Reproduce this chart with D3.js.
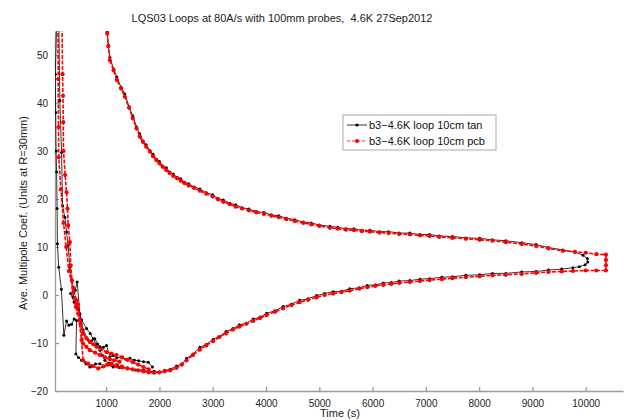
<!DOCTYPE html>
<html>
<head>
<meta charset="utf-8">
<script src="https://cdn.jsdelivr.net/npm/d3@7"></script>
<style>
  body { margin: 0; background: #fff; }
  svg { font-family: "Liberation Sans", Arial, sans-serif; }
  .axis path, .axis line { stroke: #9a9a9a; stroke-width: 1.3; }
  .axis text { fill: #222; font-size: 10px; }
</style>
</head>
<body>
<svg width="626" height="420"></svg>
<script>
// tick values
var xTicks = [1000, 2000, 3000, 4000, 5000, 6000, 7000, 8000, 9000, 10000];
var yTicks = [-20, -10, 0, 10, 20, 30, 40, 50];
var seriesNames = ["b3\u22124.6K loop 10cm tan", "b3\u22124.6K loop 10cm pcb"];

// black series (tan): main loop, lower branch -> turn -> upper branch, [time, value]
var tanLoop = [[1100,-14.6],[1250,-15.1],[1400,-15.2],[1550,-15.6],[1700,-15.6],[1800,-16.0],[1900,-15.9],[2000,-16.1],
  [2100,-15.7],[2200,-15.5],[2320,-14.8],[2420,-14.4],[2510,-13.2],[2630,-12.3],[2760,-10.9],[2880,-10.3],[3010,-9.2],
  [3120,-8.7],[3250,-7.6],[3380,-7.0],[3500,-6.2],[3630,-5.9],[3760,-5.0],[3890,-4.6],[4010,-3.8],[4170,-3.3],[4320,-2.4],
  [4480,-1.9],[4630,-1.1],[4790,-0.8],[4950,-0.1],[5100,0.3],[5260,0.7],[5420,0.8],[5570,1.3],[5750,1.5],[5900,2.0],
  [6050,2.1],[6200,2.5],[6350,2.6],[6500,2.9],[6700,3.0],[6890,3.3],[7070,3.4],[7300,3.7],[7500,3.8],[7750,4.1],[8010,4.2],
  [8250,4.5],[8500,4.5],[8800,4.8],[9070,4.9],[9300,5.2],[9550,5.4],[9760,5.7],[9880,5.9],[9990,6.3],[10040,6.9],
  [10030,7.6],[9950,8.3],[9800,8.9],[9570,9.4],[9300,9.9],[9070,10.5],[8800,10.9],[8500,11.3],[8250,11.5],[8010,11.8],
  [7750,11.9],[7500,12.2],[7250,12.3],[7070,12.6],[6890,12.6],[6700,12.9],[6500,12.9],[6300,13.2],[6130,13.2],[5950,13.5],
  [5800,13.5],[5650,13.8],[5500,13.8],[5350,14.1],[5200,14.3],[5000,14.6],[4850,15.0],[4700,15.2],[4540,15.7],[4380,16.0],
  [4240,16.5],[4100,16.7],[3960,17.2],[3820,17.4],[3680,17.9],[3550,18.2],[3430,18.8],[3320,19.1],[3200,19.8],[3100,20.1],
  [3000,20.9],[2880,21.3],[2760,22.1],[2650,22.5],[2550,23.2],[2470,23.5],[2400,24.2],[2330,24.5],[2260,25.2],[2190,25.6],
  [2130,26.5],[2060,26.9],[2000,27.8],[1940,28.3],[1880,29.3],[1820,30.1],[1750,31.3],[1690,32.1],[1630,33.6],[1570,35.0],
  [1500,37.3],[1430,39.2],[1350,41.9],[1280,43.3],[1200,45.4],[1140,47.1],[1070,49.5],[1040,52.1],[1020,54.9],[1000,57]];

// black series: the early loops near the left axis
var tanLeftA = [[75,58],[45,46],[52,38],[60,30],[70,25.6],[80,18],[85,10.7],[110,5.8],[160,1.2],[206,-8.4],[257,-5.4],
  [300,-6.3],[351,-6.1],[400,-5.0],[445,-5.3],[432,-12.3],[480,-13.0],[538,-13.6],[620,-14.3],[694,-15.0],[726,-14.8],
  [800,-14.4],[882,-14.3],[960,-14.8],[1040,-14.6],[1100,-14.6]];
var tanLeftB = [[110,58],[131,40.5],[163,29.7],[182,18.6],[225,16.2],[257,13.1],[287,10.3],[319,5.8],[351,3.2],[381,-0.4],
  [420,1.0],[456,2.7],[507,-3.9],[568,-7.3],[662,-9.4],[720,-9.6],[788,-9.1],[840,-10.2],[882,-10.8],[950,-10.9],
  [1007,-10.5],[1069,-12.9],[1130,-12.6],[1200,-13.1],[1290,-12.9],[1370,-13.4],[1445,-13.2],[1530,-13.6],[1610,-13.7],
  [1700,-13.9],[1790,-14.0],[1870,-15.0]];
var tanLeftC = [[332,0.3],[400,-1.5],[470,-3.0],[540,-5.2],[632,-7.0],[700,-8.0],[756,-9.1],[820,-10.4],[882,-11.5],
  [930,-12.6],[976,-13.6],[1050,-14.2],[1131,-15.0],[1200,-14.6],[1300,-15.1]];

// red series (pcb): main loop with the square end at ~10380 s
var pcbLoop = [[1100,-14.5],[1200,-14.9],[1300,-15.1],[1400,-15.3],[1500,-15.5],[1600,-15.7],[1700,-15.9],[1800,-16.1],
  [1900,-16.2],[2000,-16.1],[2100,-15.9],[2200,-15.7],[2320,-15.2],[2420,-14.5],[2510,-13.6],[2630,-12.5],[2760,-11.4],
  [2880,-10.5],[3010,-9.6],[3120,-8.8],[3250,-8.0],[3380,-7.2],[3500,-6.6],[3630,-6.0],[3760,-5.4],[3890,-4.8],[4010,-4.2],
  [4170,-3.5],[4320,-2.8],[4480,-2.1],[4630,-1.5],[4790,-1.0],[4950,-0.5],[5100,0.0],[5260,0.3],[5420,0.6],[5570,0.9],
  [5750,1.3],[5900,1.6],[6050,1.9],[6200,2.1],[6350,2.3],[6500,2.5],[6700,2.7],[6890,2.9],[7070,3.1],[7300,3.3],[7500,3.5],
  [7750,3.7],[8010,3.9],[8250,4.1],[8500,4.2],[8800,4.4],[9070,4.6],[9300,4.8],[9550,4.9],[9760,5.0],[10000,5.1],
  [10200,5.1],[10380,5.1],[10380,6.2],[10380,7.3],[10380,8.4],[10200,8.5],[10000,8.8],[9800,9.0],[9570,9.2],[9300,9.7],
  [9070,10.2],[8800,10.6],[8500,11.0],[8250,11.3],[8010,11.5],[7750,11.7],[7500,11.9],[7250,12.1],[7070,12.3],[6890,12.4],
  [6700,12.6],[6500,12.7],[6300,12.9],[6130,13.0],[5950,13.2],[5800,13.3],[5650,13.5],[5500,13.6],[5350,13.8],[5200,14.0],
  [5000,14.4],[4850,14.7],[4700,15.0],[4540,15.4],[4380,15.8],[4240,16.2],[4100,16.5],[3960,16.9],[3820,17.2],[3680,17.6],
  [3550,18.0],[3430,18.4],[3320,18.9],[3200,19.4],[3100,19.9],[3000,20.5],[2880,21.1],[2760,21.7],[2650,22.3],[2550,22.8],
  [2470,23.3],[2400,23.8],[2330,24.3],[2260,24.8],[2190,25.4],[2130,26.0],[2060,26.7],[2000,27.4],[1940,28.1],[1880,28.9],
  [1820,29.9],[1750,30.9],[1690,31.9],[1630,33.0],[1570,34.7],[1500,36.8],[1430,39.0],[1350,41.3],[1280,43.0],[1200,44.8],
  [1140,46.8],[1070,48.9],[1040,51.8],[1020,54.5],[1000,57]];

// red series: the early loops near the left axis
var pcbLeftA = [[170,58],[182,46],[190,41.5],[195,36],[200,30],[230,25],[257,21.4],[275,18],[287,14.5],[319,11.0],
  [335,6.2],[360,3.0],[381,0.5],[430,-2.5],[475,-3.9],[538,-9.4],[568,-13.6],[662,-14.3],[750,-14.8],[850,-15.3],
  [950,-14.9],[1020,-14.5],[1100,-14.3],[1200,-14.6],[1300,-14.9]];
var pcbLeftB = [[95,58],[100,45],[105,35],[110,28.7],[150,22],[200,15],[250,10],[300,5],[380,1.5],[445,-1.1],[507,-5.3],
  [568,-8.0],[630,-9.0],[694,-9.8],[760,-10.3],[820,-10.8],[910,-11.3],[1007,-11.9],[1100,-12.2],[1195,-12.5],[1300,-13.0],
  [1400,-13.5],[1500,-14.0],[1600,-14.5],[1700,-15.0],[1800,-15.5]];
var pcbLeftC = [[470,-2.0],[520,-6.0],[568,-10.1],[630,-10.8],[694,-11.5],[790,-12.0],[882,-12.5],[980,-13.0],
  [1069,-13.4],[1150,-13.6],[1250,-13.9]];

var svg = d3.select("svg");

// plot box (no "top": that name is taken by window)
var plotLeft = 55, plotRight = 623, plotTop = 31, plotBottom = 391;

var x = d3.scaleLinear().domain([40, 10700]).range([plotLeft, plotRight]);
var y = d3.scaleLinear().domain([-20, 55]).range([plotBottom, plotTop]);

svg.append("clipPath").attr("id", "clip")
  .append("rect")
  .attr("x", plotLeft).attr("y", plotTop)
  .attr("width", plotRight - plotLeft).attr("height", plotBottom - plotTop);

// axes with inward ticks, matlab style
svg.append("g")
  .attr("class", "axis")
  .attr("transform", "translate(0," + plotBottom + ")")
  .call(d3.axisBottom(x).tickValues(xTicks).tickFormat(d3.format("d")).tickSize(-4).tickPadding(9).tickSizeOuter(0));

svg.append("g")
  .attr("class", "axis")
  .attr("transform", "translate(" + plotLeft + ",0)")
  .call(d3.axisLeft(y).tickValues(yTicks).tickFormat(d3.format("d")).tickSize(-4).tickPadding(7).tickSizeOuter(0));

var line = d3.line()
  .x(function (d) { return x(d[0]); })
  .y(function (d) { return y(d[1]); });

var plot = svg.append("g").attr("clip-path", "url(#clip)");

// one series = a few traces, each a thin line with dot markers
function drawSeries(traces, color, dash, lw, r) {
  traces.forEach(function (pts) {
    plot.append("path")
      .datum(pts)
      .attr("fill", "none")
      .attr("stroke", color)
      .attr("stroke-width", lw)
      .attr("stroke-dasharray", dash)
      .attr("d", line);
    plot.selectAll(null)
      .data(pts)
      .enter().append("circle")
      .attr("cx", function (d) { return x(d[0]); })
      .attr("cy", function (d) { return y(d[1]); })
      .attr("r", r)
      .attr("fill", color);
  });
}

drawSeries([tanLeftA, tanLeftB, tanLeftC, tanLoop], "#000", null, 0.8, 1.5);
drawSeries([pcbLeftA, pcbLeftB, pcbLeftC, pcbLoop], "#f00", "4,1.5", 1.6, 2.1);

// title and labels
svg.append("text")
  .attr("x", 282).attr("y", 22)
  .attr("text-anchor", "middle")
  .style("font-size", "11px").style("white-space", "pre").attr("fill", "#222")
  .text("LQS03 Loops at 80A/s with 100mm probes,  4.6K 27Sep2012");

svg.append("text")
  .attr("x", 340).attr("y", 417)
  .attr("text-anchor", "middle")
  .style("font-size", "11px").attr("fill", "#222")
  .text("Time (s)");

svg.append("text")
  .attr("transform", "translate(27,213) rotate(-90)")
  .attr("text-anchor", "middle")
  .style("font-size", "11px").attr("fill", "#222")
  .text("Ave. Multipole Coef. (Units at R=30mm)");

// legend
var legend = svg.append("g").attr("transform", "translate(343,115)");
legend.append("rect")
  .attr("width", 153).attr("height", 35)
  .attr("fill", "#fff").attr("stroke", "#aaa");

var colors = ["#000", "#f00"];
seriesNames.forEach(function (name, i) {
  var ly = 10 + i * 16;
  legend.append("line")
    .attr("x1", 4).attr("x2", 24).attr("y1", ly).attr("y2", ly)
    .attr("stroke", colors[i]).attr("stroke-width", 0.8)
    .attr("stroke-dasharray", i ? "3,2" : null);
  legend.append("circle")
    .attr("cx", 14).attr("cy", ly).attr("r", i ? 2 : 1.6)
    .attr("fill", colors[i]);
  legend.append("text")
    .attr("x", 26).attr("y", ly + 4)
    .style("font-size", "11px").attr("fill", "#111")
    .text(name);
});
</script>
</body>
</html>
